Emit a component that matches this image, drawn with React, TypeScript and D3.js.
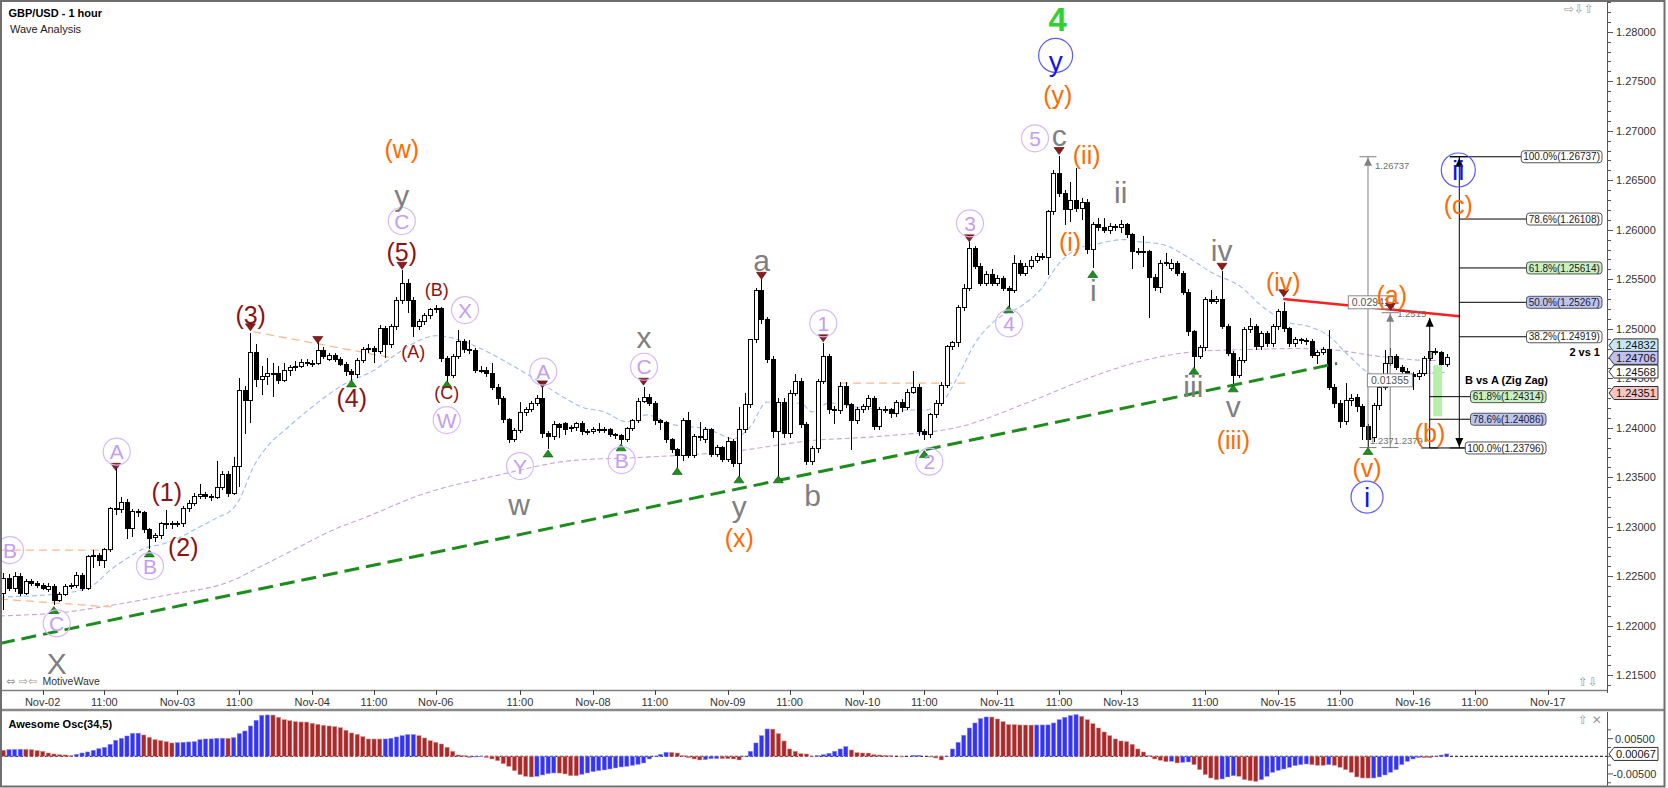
import React from 'react';
import * as d3 from 'd3';

const FONT = "'Liberation Sans', Arial, Helvetica, sans-serif";

// Hourly bars, index 0 = Nov-01 17:00
const opens = [
  1.2233, 1.2248, 1.2238, 1.2250, 1.2233, 1.2245, 1.2243, 1.2241, 1.2237, 1.2240,
  1.2226, 1.2232, 1.2240, 1.2241, 1.2251, 1.2238, 1.2270, 1.2271, 1.2266, 1.2277,
  1.2318, 1.2317, 1.2325, 1.2298, 1.2315, 1.2314, 1.2297, 1.2289, 1.2291, 1.2303,
  1.2303, 1.2302, 1.2303, 1.2318, 1.2324, 1.2331, 1.2333, 1.2331, 1.2330, 1.2340,
  1.2353, 1.2334, 1.2361, 1.2438, 1.2428, 1.2476, 1.2449, 1.2452, 1.2455, 1.2455,
  1.2448, 1.2458, 1.2461, 1.2462, 1.2466, 1.2465, 1.2465, 1.2478, 1.2469, 1.2473,
  1.2469, 1.2464, 1.2457, 1.2454, 1.2468, 1.2479, 1.2480, 1.2477, 1.2500, 1.2484,
  1.2502, 1.2529, 1.2546, 1.2529, 1.2502, 1.2507, 1.2513, 1.2519, 1.2520, 1.2470,
  1.2453, 1.2472, 1.2487, 1.2479, 1.2478, 1.2458, 1.2458, 1.2455, 1.2441, 1.2430,
  1.2408, 1.2388, 1.2397, 1.2415, 1.2418, 1.2424, 1.2430, 1.2394, 1.2391, 1.2403,
  1.2404, 1.2399, 1.2400, 1.2404, 1.2396, 1.2396, 1.2398, 1.2398, 1.2398, 1.2393,
  1.2392, 1.2388, 1.2399, 1.2407, 1.2427, 1.2431, 1.2425, 1.2407, 1.2405, 1.2388,
  1.2378, 1.2372, 1.2407, 1.2372, 1.2391, 1.2388, 1.2398, 1.2373, 1.2380, 1.2368,
  1.2386, 1.2364, 1.2398, 1.2423, 1.2489, 1.2539, 1.2509, 1.2469, 1.2396, 1.2426,
  1.2394, 1.2435, 1.2447, 1.2403, 1.2366, 1.2379, 1.2447, 1.2472, 1.2418, 1.2417,
  1.2442, 1.2423, 1.2407, 1.2418, 1.2421, 1.2430, 1.2401, 1.2418, 1.2418, 1.2414,
  1.2426, 1.2420, 1.2436, 1.2441, 1.2396, 1.2393, 1.2413, 1.2425, 1.2443, 1.2482,
  1.2486, 1.2521, 1.2541, 1.2581, 1.2563, 1.2546, 1.2555, 1.2546, 1.2551, 1.2541,
  1.2539, 1.2566, 1.2556, 1.2563, 1.2569, 1.2573, 1.2572, 1.2618, 1.2657, 1.2637,
  1.2620, 1.2630, 1.2621, 1.2628, 1.2580, 1.2605, 1.2602, 1.2599, 1.2603, 1.2602,
  1.2605, 1.2595, 1.2578, 1.2577, 1.2578, 1.2552, 1.2542, 1.2566, 1.2561, 1.2566,
  1.2556, 1.2537, 1.2497, 1.2472, 1.2481, 1.2530, 1.2528, 1.2530, 1.2502, 1.2475,
  1.2453, 1.2468, 1.2499, 1.2502, 1.2482, 1.2495, 1.2485, 1.2502, 1.2517, 1.2500,
  1.2485, 1.2489, 1.2488, 1.2487, 1.2473, 1.2476, 1.2479, 1.2441, 1.2425, 1.2406,
  1.2428, 1.2431, 1.2421, 1.2401, 1.2390, 1.2422, 1.2441, 1.2465, 1.2472, 1.2461,
  1.2457, 1.2454, 1.2452, 1.2455, 1.2470, 1.2477, 1.2476, 1.2464,
];
const highs = [
  1.2253, 1.2252, 1.2254, 1.2253, 1.2247, 1.2247, 1.2245, 1.2243, 1.2243, 1.2242,
  1.2234, 1.2242, 1.2243, 1.2254, 1.2253, 1.2272, 1.2277, 1.2274, 1.2279, 1.2320,
  1.2359, 1.2330, 1.2328, 1.2318, 1.2318, 1.2316, 1.2299, 1.2294, 1.2305, 1.2317,
  1.2306, 1.2306, 1.2321, 1.2327, 1.2334, 1.2343, 1.2335, 1.2333, 1.2366, 1.2356,
  1.2356, 1.2370, 1.2450, 1.2442, 1.2496, 1.2485, 1.2462, 1.2470, 1.2465, 1.2462,
  1.2465, 1.2463, 1.2467, 1.2469, 1.2469, 1.2468, 1.2491, 1.2482, 1.2476, 1.2476,
  1.2471, 1.2466, 1.2459, 1.2470, 1.2482, 1.2485, 1.2483, 1.2504, 1.2503, 1.2505,
  1.2532, 1.2559, 1.2550, 1.2532, 1.2510, 1.2516, 1.2521, 1.2524, 1.2522, 1.2472,
  1.2475, 1.2499, 1.2490, 1.2489, 1.2481, 1.2462, 1.2461, 1.2465, 1.2444, 1.2432,
  1.2410, 1.2400, 1.2426, 1.2421, 1.2427, 1.2433, 1.2441, 1.2397, 1.2407, 1.2405,
  1.2406, 1.2403, 1.2406, 1.2407, 1.2399, 1.2401, 1.2405, 1.2401, 1.2400, 1.2395,
  1.2394, 1.2401, 1.2409, 1.2430, 1.2441, 1.2434, 1.2427, 1.2409, 1.2407, 1.2390,
  1.2380, 1.2410, 1.2416, 1.2394, 1.2406, 1.2401, 1.2400, 1.2383, 1.2382, 1.2391,
  1.2389, 1.2421, 1.2435, 1.2490, 1.2541, 1.2550, 1.2512, 1.2472, 1.2430, 1.2430,
  1.2438, 1.2454, 1.2450, 1.2406, 1.2382, 1.2449, 1.2486, 1.2475, 1.2422, 1.2446,
  1.2446, 1.2425, 1.2421, 1.2424, 1.2433, 1.2432, 1.2421, 1.2422, 1.2420, 1.2428,
  1.2429, 1.2439, 1.2457, 1.2444, 1.2399, 1.2415, 1.2428, 1.2446, 1.2484, 1.2488,
  1.2524, 1.2545, 1.2588, 1.2584, 1.2566, 1.2558, 1.2560, 1.2554, 1.2553, 1.2543,
  1.2574, 1.2569, 1.2566, 1.2573, 1.2576, 1.2576, 1.2620, 1.2660, 1.2674, 1.2640,
  1.2648, 1.2662, 1.2632, 1.2631, 1.2608, 1.2612, 1.2612, 1.2607, 1.2606, 1.2610,
  1.2607, 1.2597, 1.2582, 1.2594, 1.2580, 1.2555, 1.2569, 1.2577, 1.2570, 1.2568,
  1.2558, 1.2540, 1.2499, 1.2484, 1.2532, 1.2539, 1.2533, 1.2558, 1.2505, 1.2478,
  1.2471, 1.2502, 1.2511, 1.2505, 1.2498, 1.2498, 1.2505, 1.2520, 1.2527, 1.2502,
  1.2492, 1.2491, 1.2491, 1.2490, 1.2479, 1.2482, 1.2499, 1.2444, 1.2428, 1.2445,
  1.2434, 1.2434, 1.2424, 1.2404, 1.2425, 1.2447, 1.2479, 1.2481, 1.2475, 1.2463,
  1.2460, 1.2456, 1.2458, 1.2472, 1.2478, 1.2481, 1.2478, 1.2474,
];
const lows = [
  1.2216, 1.2235, 1.2234, 1.2230, 1.2231, 1.2240, 1.2238, 1.2236, 1.2234, 1.2221,
  1.2224, 1.2230, 1.2237, 1.2238, 1.2235, 1.2236, 1.2258, 1.2260, 1.2258, 1.2275,
  1.2312, 1.2314, 1.2288, 1.2290, 1.2310, 1.2294, 1.2278, 1.2285, 1.2288, 1.2298,
  1.2298, 1.2300, 1.2300, 1.2315, 1.2321, 1.2328, 1.2328, 1.2326, 1.2328, 1.2337,
  1.2330, 1.2332, 1.2340, 1.2394, 1.2405, 1.2441, 1.2433, 1.2443, 1.2431, 1.2444,
  1.2446, 1.2452, 1.2457, 1.2460, 1.2462, 1.2461, 1.2463, 1.2469, 1.2467, 1.2466,
  1.2462, 1.2452, 1.2445, 1.2450, 1.2465, 1.2476, 1.2465, 1.2474, 1.2470, 1.2481,
  1.2499, 1.2525, 1.2516, 1.2492, 1.2499, 1.2504, 1.2510, 1.2516, 1.2466, 1.2445,
  1.2450, 1.2469, 1.2476, 1.2475, 1.2455, 1.2455, 1.2451, 1.2438, 1.2423, 1.2405,
  1.2385, 1.2386, 1.2395, 1.2412, 1.2416, 1.2422, 1.2390, 1.2379, 1.2388, 1.2390,
  1.2393, 1.2396, 1.2397, 1.2393, 1.2393, 1.2394, 1.2395, 1.2395, 1.2391, 1.2389,
  1.2384, 1.2386, 1.2397, 1.2405, 1.2425, 1.2422, 1.2403, 1.2398, 1.2385, 1.2375,
  1.2359, 1.2366, 1.2369, 1.2369, 1.2387, 1.2385, 1.2370, 1.2370, 1.2365, 1.2365,
  1.2360, 1.2350, 1.2395, 1.2420, 1.2486, 1.2505, 1.2465, 1.2390, 1.2350, 1.2390,
  1.2390, 1.2432, 1.2400, 1.2362, 1.2362, 1.2375, 1.2444, 1.2414, 1.2404, 1.2414,
  1.2420, 1.2378, 1.2404, 1.2415, 1.2418, 1.2398, 1.2398, 1.2415, 1.2410, 1.2411,
  1.2416, 1.2418, 1.2434, 1.2392, 1.2388, 1.2390, 1.2410, 1.2422, 1.2440, 1.2479,
  1.2482, 1.2518, 1.2538, 1.2560, 1.2543, 1.2543, 1.2543, 1.2543, 1.2538, 1.2522,
  1.2536, 1.2553, 1.2553, 1.2560, 1.2566, 1.2569, 1.2554, 1.2615, 1.2633, 1.2605,
  1.2608, 1.2618, 1.2610, 1.2575, 1.2561, 1.2599, 1.2597, 1.2596, 1.2599, 1.2597,
  1.2592, 1.2560, 1.2574, 1.2562, 1.2511, 1.2538, 1.2536, 1.2563, 1.2558, 1.2553,
  1.2534, 1.2493, 1.2458, 1.2469, 1.2478, 1.2525, 1.2525, 1.2500, 1.2472, 1.2439,
  1.2450, 1.2465, 1.2496, 1.2479, 1.2479, 1.2482, 1.2482, 1.2499, 1.2497, 1.2482,
  1.2482, 1.2485, 1.2484, 1.2470, 1.2464, 1.2473, 1.2438, 1.2420, 1.2400, 1.2403,
  1.2422, 1.2416, 1.2388, 1.2380, 1.2386, 1.2418, 1.2438, 1.2462, 1.2458, 1.2452,
  1.2451, 1.2438, 1.2448, 1.2452, 1.2467, 1.2473, 1.2460, 1.2461,
];
const closes = [
  1.2248, 1.2238, 1.2250, 1.2233, 1.2245, 1.2243, 1.2241, 1.2238, 1.2240, 1.2226,
  1.2232, 1.2240, 1.2241, 1.2251, 1.2238, 1.2270, 1.2271, 1.2266, 1.2277, 1.2318,
  1.2317, 1.2325, 1.2298, 1.2315, 1.2314, 1.2297, 1.2288, 1.2291, 1.2303, 1.2303,
  1.2302, 1.2303, 1.2318, 1.2324, 1.2331, 1.2333, 1.2331, 1.2330, 1.2340, 1.2353,
  1.2334, 1.2361, 1.2438, 1.2428, 1.2476, 1.2449, 1.2452, 1.2455, 1.2455, 1.2448,
  1.2458, 1.2461, 1.2462, 1.2466, 1.2465, 1.2465, 1.2478, 1.2472, 1.2473, 1.2469,
  1.2464, 1.2457, 1.2454, 1.2468, 1.2479, 1.2480, 1.2477, 1.2500, 1.2484, 1.2502,
  1.2529, 1.2546, 1.2529, 1.2502, 1.2507, 1.2513, 1.2519, 1.2520, 1.2470, 1.2453,
  1.2472, 1.2487, 1.2479, 1.2478, 1.2458, 1.2458, 1.2455, 1.2441, 1.2430, 1.2408,
  1.2388, 1.2397, 1.2415, 1.2418, 1.2424, 1.2430, 1.2394, 1.2391, 1.2403, 1.2400,
  1.2398, 1.2400, 1.2404, 1.2396, 1.2396, 1.2398, 1.2398, 1.2398, 1.2393, 1.2392,
  1.2388, 1.2399, 1.2407, 1.2427, 1.2431, 1.2425, 1.2407, 1.2405, 1.2388, 1.2378,
  1.2372, 1.2407, 1.2372, 1.2391, 1.2390, 1.2398, 1.2373, 1.2380, 1.2368, 1.2386,
  1.2364, 1.2398, 1.2423, 1.2489, 1.2539, 1.2509, 1.2469, 1.2396, 1.2426, 1.2394,
  1.2435, 1.2447, 1.2403, 1.2366, 1.2379, 1.2447, 1.2472, 1.2418, 1.2417, 1.2442,
  1.2423, 1.2407, 1.2418, 1.2421, 1.2430, 1.2401, 1.2418, 1.2418, 1.2414, 1.2426,
  1.2420, 1.2436, 1.2441, 1.2396, 1.2393, 1.2413, 1.2425, 1.2443, 1.2482, 1.2486,
  1.2521, 1.2541, 1.2581, 1.2563, 1.2546, 1.2555, 1.2546, 1.2551, 1.2541, 1.2539,
  1.2566, 1.2556, 1.2563, 1.2569, 1.2573, 1.2572, 1.2618, 1.2657, 1.2637, 1.2620,
  1.2630, 1.2621, 1.2628, 1.2580, 1.2605, 1.2602, 1.2599, 1.2603, 1.2602, 1.2605,
  1.2595, 1.2578, 1.2577, 1.2578, 1.2552, 1.2542, 1.2566, 1.2567, 1.2566, 1.2556,
  1.2537, 1.2497, 1.2472, 1.2481, 1.2530, 1.2528, 1.2530, 1.2502, 1.2475, 1.2453,
  1.2468, 1.2499, 1.2502, 1.2482, 1.2495, 1.2485, 1.2502, 1.2517, 1.2500, 1.2485,
  1.2489, 1.2488, 1.2487, 1.2473, 1.2476, 1.2479, 1.2441, 1.2425, 1.2406, 1.2428,
  1.2430, 1.2421, 1.2401, 1.2388, 1.2422, 1.2441, 1.2465, 1.2472, 1.2461, 1.2457,
  1.2455, 1.2452, 1.2455, 1.2470, 1.2477, 1.2477, 1.2464, 1.2471,
];
const shadedBars = [247, 254];

// Awesome Oscillator (34,5), one value per bar
const aoValues = [
  0.00170, 0.00190, 0.00195, 0.00200, 0.00198, 0.00189, 0.00160, 0.00142, 0.00094, 0.00066,
  0.00047, 0.00038, 0.00019, 0.00057, 0.00094, 0.00123, 0.00170, 0.00217, 0.00255, 0.00340,
  0.00453, 0.00510, 0.00576, 0.00651, 0.00655, 0.00604, 0.00538, 0.00472, 0.00444, 0.00415,
  0.00378, 0.00387, 0.00396, 0.00406, 0.00415, 0.00472, 0.00491, 0.00493, 0.00510, 0.00512,
  0.00510, 0.00529, 0.00642, 0.00717, 0.00859, 0.01020, 0.01161, 0.01171, 0.01169, 0.01104,
  0.01038, 0.01010, 0.00982, 0.00972, 0.00970, 0.00935, 0.00906, 0.00878, 0.00859, 0.00840,
  0.00812, 0.00736, 0.00661, 0.00623, 0.00557, 0.00491, 0.00490, 0.00489, 0.00491, 0.00510,
  0.00548, 0.00585, 0.00614, 0.00616, 0.00585, 0.00519, 0.00444, 0.00396, 0.00349, 0.00255,
  0.00142, 0.00038, 0.00019, -0.00030, -0.00020, -0.00015, -0.00038, -0.00076, -0.00123, -0.00208,
  -0.00283, -0.00406, -0.00519, -0.00566, -0.00585, -0.00566, -0.00529, -0.00491, -0.00472, -0.00475,
  -0.00500, -0.00548, -0.00550, -0.00510, -0.00472, -0.00434, -0.00406, -0.00387, -0.00359, -0.00330,
  -0.00302, -0.00283, -0.00255, -0.00227, -0.00189, -0.00076, 0.00005, 0.00057, 0.00113, 0.00110,
  0.00094, 0.00019, -0.00038, -0.00076, -0.00104, -0.00094, -0.00066, -0.00064, -0.00066, -0.00068,
  -0.00076, -0.00104, 0.00005, 0.00142, 0.00378, 0.00585, 0.00774, 0.00770, 0.00642, 0.00434,
  0.00208, 0.00142, 0.00076, 0.00066, 0.00005, 0.00019, 0.00047, 0.00085, 0.00142, 0.00208,
  0.00274, 0.00179, 0.00104, 0.00094, 0.00092, 0.00047, 0.00038, 0.00028, 0.00019, 0.00000,
  -0.00019, 0.00000, 0.00028, 0.00030, 0.00000, -0.00019, -0.00047, -0.00104, 0.00005, 0.00208,
  0.00396, 0.00595, 0.00802, 0.00944, 0.01067, 0.01114, 0.01112, 0.01057, 0.00982, 0.00897,
  0.00895, 0.00888, 0.00886, 0.00884, 0.00886, 0.00888, 0.00890, 0.00944, 0.01038, 0.01104,
  0.01151, 0.01180, 0.01133, 0.01038, 0.00925, 0.00802, 0.00689, 0.00585, 0.00491, 0.00434,
  0.00415, 0.00340, 0.00208, 0.00123, 0.00019, -0.00076, -0.00113, -0.00151, -0.00140, -0.00189,
  -0.00170, -0.00160, -0.00236, -0.00378, -0.00519, -0.00614, -0.00661, -0.00642, -0.00585, -0.00548,
  -0.00566, -0.00661, -0.00689, -0.00708, -0.00661, -0.00566, -0.00453, -0.00396, -0.00359, -0.00312,
  -0.00264, -0.00236, -0.00217, -0.00236, -0.00255, -0.00257, -0.00236, -0.00255, -0.00312, -0.00378,
  -0.00453, -0.00585, -0.00614, -0.00616, -0.00614, -0.00585, -0.00529, -0.00453, -0.00378, -0.00236,
  -0.00142, -0.00076, -0.00038, -0.00040, -0.00042, 0.00003, 0.00035, 0.00067,
];

// moving averages: [bar, price]
const blueMaPoints = [
  [-0.6, 1.2229], [11, 1.2233], [16, 1.2241], [19, 1.2256], [22, 1.2268], [25.5, 1.2279], [28, 1.2282],
  [31, 1.2288], [34, 1.2297], [38, 1.2309], [41, 1.2319], [42, 1.2327], [44.5, 1.2360], [47, 1.2381],
  [50.4, 1.2399], [55, 1.2421], [61, 1.2445], [66, 1.2458], [69.4, 1.2472], [73, 1.2485], [77, 1.2493],
  [81, 1.2489], [85, 1.2480], [90, 1.2465], [95, 1.2448], [100, 1.2430], [103, 1.2421], [107, 1.2416],
  [111, 1.2406], [114.6, 1.2413], [118.7, 1.2404], [125.8, 1.2398], [130, 1.2389], [133, 1.2401],
  [136, 1.2426], [139, 1.2423], [142, 1.2425], [144, 1.2416], [147, 1.2425], [152, 1.2421], [158, 1.2418],
  [164, 1.2418], [167, 1.2425], [170, 1.2452], [173, 1.2485], [177.5, 1.2512], [181, 1.2522],
  [184.6, 1.2539], [188, 1.2566], [191, 1.2580], [195, 1.2586], [199.4, 1.2590], [202, 1.2588],
  [206.5, 1.2585], [210.7, 1.2573], [215.4, 1.2556], [220.2, 1.2543], [224.3, 1.2522], [228.5, 1.2507],
  [232.6, 1.2502], [236.2, 1.2492], [239.2, 1.2475], [243.3, 1.2455], [247, 1.2450], [251, 1.2453],
  [254, 1.2455], [257, 1.2456],
];
const purpleMaPoints = [
  [-0.6, 1.2210], [11.3, 1.2214], [19.6, 1.2221], [29.1, 1.2231], [40.9, 1.2246], [44.5, 1.2256],
  [52.8, 1.2280], [58.8, 1.2297], [64.7, 1.2310], [74.2, 1.2332], [88, 1.2352], [101.5, 1.2367],
  [113.4, 1.2370], [131.2, 1.2377], [143.8, 1.2387], [155.2, 1.2391], [170.3, 1.2401], [182.2, 1.2425],
  [194.1, 1.2452], [202.4, 1.2467], [212.5, 1.2477], [221.4, 1.2479], [230.3, 1.2480], [236.2, 1.2479],
  [245.1, 1.2472], [254, 1.2468], [257, 1.2468],
];

const xTicks = [
  [7, 'Nov-02'], [18, '11:00'], [31, 'Nov-03'], [42, '11:00'], [55, 'Nov-04'], [66, '11:00'],
  [77, 'Nov-06'], [92, '11:00'], [105, 'Nov-08'], [116, '11:00'], [129, 'Nov-09'], [140, '11:00'],
  [153, 'Nov-10'], [164, '11:00'], [177, 'Nov-11'], [188, '11:00'], [199, 'Nov-13'], [214, '11:00'],
  [227, 'Nov-15'], [238, '11:00'], [251, 'Nov-16'], [262, '11:00'], [275, 'Nov-17'],
];
const priceTicks = [1.215, 1.22, 1.225, 1.23, 1.235, 1.24, 1.245, 1.25, 1.255, 1.26, 1.265, 1.27, 1.275, 1.28];
const aoTicks = [0.005, -0.005];
const priceTags = [
  [1.24832, '#c6e6f6'], [1.24706, '#c0c0f2'], [1.24568, '#ffffff'], [1.24351, '#f6c4c4'],
];
const aoLastValue = 0.00067;

// wave labels: [bar, price, text]
const darkRedLabels = [
  [29.1, 1.2335, '(1)'], [32.05, 1.2280, '(2)'], [44.05, 1.2514, '(3)'], [62.04, 1.2430, '(4)'],
  [70.94, 1.2578, '(5)'], [73.0, 1.2477, '(A)'], [77.17, 1.2539, '(B)'], [78.95, 1.2435, '(C)'],
];
const purpleCircleLabels = [
  [1.19, 1.22765, 'B'], [9.51, 1.22024, 'C'], [20.19, 1.23758, 'A'], [26.12, 1.22603, 'B'],
  [70.96, 1.26088, 'C'], [82.21, 1.25189, 'X'], [78.95, 1.24078, 'W'], [96.15, 1.24566, 'A'],
  [92.0, 1.23613, 'Y'], [110.11, 1.23674, 'B'], [114.09, 1.24616, 'C'], [146.01, 1.25055, '1'],
  [164.89, 1.23657, '2'], [172.13, 1.26065, '3'], [179.08, 1.25055, '4'], [183.71, 1.26923, '5'],
];
const grayLabels = [
  [9.51, 1.21623, 'X'], [70.96, 1.26411, 'y'], [91.83, 1.23249, 'w'], [114.09, 1.24936, 'x'],
  [135.04, 1.25714, 'a'], [131.05, 1.2327, 'y'], [144.12, 1.2332, 'b'], [188.03, 1.26977, 'c'],
  [198.97, 1.26371, 'ii'], [194.09, 1.25391, 'i'], [216.95, 1.25795, 'iv'], [211.9, 1.24421, 'iii'],
  [219.02, 1.24239, 'v'],
];
const orangeLabels = [
  [70.96, 1.26815, '(w)'], [131.05, 1.22886, '(x)'], [187.75, 1.27361, '(y)'], [189.94, 1.25876, '(i)'],
  [192.91, 1.26755, '(ii)'], [219.02, 1.23876, '(iii)'], [227.92, 1.25472, '(iv)'], [242.83, 1.23593, '(v)'],
  [247.22, 1.2534, '(a)'], [254.04, 1.23946, '(b)'], [259.08, 1.2625, '(c)'],
];
const blueCircleLabels = [[187.38, 1.27760, 'y', 17], [242.83, 1.2330, 'i', 16], [259.08, 1.26603, 'ii', 17]];
const greenLabels = [[187.75, 1.28122, '4']];
const highMarkers = [
  [44, 1.25014], [20, 1.23606], [71, 1.25636], [56, 1.24886], [96, 1.24438], [114, 1.24465],
  [135, 1.25535], [146, 1.24903], [172, 1.25913], [188, 1.26795], [217, 1.25626], [228, 1.25358],
  [247, 1.25222],
];
const lowMarkers = [
  [9, 1.22159], [26, 1.22731], [62, 1.24448], [79, 1.24441], [97, 1.23741], [110, 1.23802],
  [120, 1.23563], [131, 1.23479], [138, 1.23479], [164, 1.23734], [179, 1.25196], [194, 1.25553],
  [212, 1.24576], [219, 1.24398], [243, 1.23765],
];

// drawn lines: [[bar, price], [bar, price]]
const greenTrend = [[-0.6, 1.21822], [237.5, 1.2465]];
const redResistance = [[227.9, 1.2530], [259.3, 1.25126]];
const orangeLevels = [
  [[-0.6, 1.22765], [19, 1.22765]],
  [[-0.6, 1.2227], [19.3, 1.2219]],
  [[44.5, 1.2497], [68.9, 1.2471]],
  [[149, 1.2445], [171.6, 1.2445]],
];

// fib / measuring tools
const fib2vs1 = [[100.0, 1.26737, '#ffffff'], [78.6, 1.26108, '#ffffff'], [61.8, 1.25614, '#c8f0c0'], [50.0, 1.25267, '#bcc4f4'], [38.2, 1.24919, '#ffffff']];
const fibBvsA = [[61.8, 1.24314, '#c8f0c0'], [78.6, 1.24086, '#bcc4f4'], [100.0, 1.23796, '#ffffff']];
const tool2vs1 = { bar: 259.26, top: 1.26737, bottom: 1.23796, title: '2 vs 1', titlePrice: 1.24768 };
const toolBvsA = { bar: 253.99, top: 1.2511, bottom: 1.23796, title: 'B vs A (Zig Zag)', titlePrice: 1.24482 };
const measure1 = { bar: 243, top: 1.26737, bottom: 1.2380, label: '1.26737' };
const measure2 = { bar: 246.95, top: 1.25162, bottom: 1.2380, label: '1.2515' };
const measureBoxes = [[243.5, 1.25267, '0.02941'], [246.9, 1.24479, '0.01355']];
const greenZone = { bar0: 254.6, bar1: 256.2, top: 1.24631, bottom: 1.24116 };

const PLOT_R = 1607;
const PLOT_B = 690;
const AO_T = 712;
const AO_B = 786;

function shiftFor(t) {
  if (/^[acemnorsuvwxz]+$/.test(t)) return '0.09em';
  if (/^[gpqy]+$/.test(t)) return '0.2em';
  return '0em';
}

export default function App() {
  const xs = d3.scaleLinear().domain([0, 275]).range([3.3, 1547.7]);
  const ys = d3.scaleLinear().domain([1.215, 1.28]).range([675.3, 31.7]);
  const aos = d3.scaleLinear().domain([-0.005, 0.005]).range([773.95, 738.65]);
  const maLine = d3.line().x((d) => xs(d[0])).y((d) => ys(d[1])).curve(d3.curveMonotoneX);
  const seg = d3.line().x((d) => xs(d[0])).y((d) => ys(d[1]));

  const bars = d3.range(closes.length).map((i) => ({ i, o: opens[i], h: highs[i], l: lows[i], c: closes[i] }));
  const minorTicks = d3.range(1214, 1284).map((v) => v / 1000);
  const aoMinor = [0.0075, 0.0025, 0, -0.0025, -0.0075];

  const label = (key, x, y, t, size, fill, extra = {}) => (
    <text key={key} x={x} y={y} dy={shiftFor(t)} fontSize={size} fill={fill} textAnchor="middle"
      dominantBaseline="central" fontFamily={FONT} {...extra}>{t}</text>
  );

  const boxLabel = (key, rightX, y, t, fill) => {
    const w = t.length * 5.25 + 2;
    return (
      <g key={key}>
        <rect x={rightX - w} y={y - 6} width={w} height={12} rx={3} fill={fill} stroke="#555" strokeWidth={1} />
        <text x={rightX - w / 2} y={y + 3.6} fontSize={10} textAnchor="middle" fill="#222" fontFamily={FONT}>{t}</text>
      </g>
    );
  };

  const tag = (key, y, t, fill) => (
    <g key={key}>
      <path d={`M1609,${y} L1614,${y - 6.5} L1658,${y - 6.5} L1658,${y + 6.5} L1614,${y + 6.5} Z`} fill={fill} stroke="#333" strokeWidth={1} />
      <text x={1616} y={y + 4} fontSize={11} fill="#111" fontFamily={FONT}>{t}</text>
    </g>
  );

  const m1x = xs(measure1.bar);
  const m2x = xs(measure2.bar);
  const t1x = xs(tool2vs1.bar);
  const t2x = xs(toolBvsA.bar);

  return (
    <svg width={1668} height={788} viewBox="0 0 1668 788"
      style={{ position: 'absolute', left: 0, top: 0, display: 'block', background: '#fff' }}>
      <defs>
        <clipPath id="plotClip"><rect x={1} y={1} width={PLOT_R - 1} height={PLOT_B - 1} /></clipPath>
        <clipPath id="aoClip"><rect x={1} y={AO_T} width={PLOT_R - 1} height={AO_B - AO_T} /></clipPath>
      </defs>
      <rect x={0} y={0} width={1668} height={788} fill="#fff" />

      {/* ---------- main plot ---------- */}
      <g clipPath="url(#plotClip)">
        <path d={maLine(purpleMaPoints)} fill="none" stroke="#c9a2dc" strokeWidth={1.1} strokeDasharray="5,3" />
        <path d={maLine(blueMaPoints)} fill="none" stroke="#9dbcf4" strokeWidth={1.1} strokeDasharray="5,3" />

        {orangeLevels.map((s, i) => (
          <path key={'ol' + i} d={seg(s)} fill="none" stroke="#ffb88c" strokeWidth={1.3} strokeDasharray="8,5" />
        ))}

        <g shapeRendering="crispEdges">
          {bars.map((b) => {
            const cx = Math.round(xs(b.i));
            const top = ys(Math.max(b.o, b.c));
            const bot = ys(Math.min(b.o, b.c));
            const up = b.c >= b.o;
            const shaded = shadedBars.includes(b.i);
            return (
              <g key={'c' + b.i}>
                <line x1={cx + 0.5} x2={cx + 0.5} y1={ys(b.h)} y2={ys(b.l)} stroke="#000" strokeWidth={1} />
                <rect x={cx - 1.5} y={top} width={4} height={Math.max(1, bot - top)}
                  fill={shaded ? '#a8a8a8' : up ? '#fff' : '#000'} stroke="#000" strokeWidth={1} />
              </g>
            );
          })}
        </g>

        <path d={seg(greenTrend)} fill="none" stroke="#1c8c1c" strokeWidth={3} strokeDasharray="15,7" />
        <path d={seg(redResistance)} fill="none" stroke="#ff1e1e" strokeWidth={2.6} />

        <rect x={xs(greenZone.bar0)} y={ys(greenZone.top)} width={xs(greenZone.bar1) - xs(greenZone.bar0)}
          height={ys(greenZone.bottom) - ys(greenZone.top)} fill="#b6eeaa" />

        {/* measure tools (gray) */}
        <g stroke="#808080" strokeWidth={1} fill="none">
          <line x1={m1x} x2={m1x} y1={ys(measure1.top)} y2={ys(measure1.bottom)} />
          <line x1={m1x - 8.5} x2={m1x + 8.5} y1={ys(measure1.top)} y2={ys(measure1.top)} />
          <line x1={m1x - 8.5} x2={m1x + 8.5} y1={ys(measure1.bottom)} y2={ys(measure1.bottom)} />
          <line x1={m2x} x2={m2x} y1={ys(measure2.top)} y2={ys(measure2.bottom)} />
          <line x1={m2x - 8.5} x2={m2x + 8.5} y1={ys(measure2.top)} y2={ys(measure2.top)} />
          <line x1={m2x - 8.5} x2={m2x + 8.5} y1={ys(measure2.bottom)} y2={ys(measure2.bottom)} />
        </g>
        <path d={`M${m1x},${ys(measure1.top) + 1} l-4,8 l8,0 Z`} fill="#808080" />
        <path d={`M${m2x},${ys(measure2.top) + 1} l-4,8 l8,0 Z`} fill="#808080" />
        <text x={m1x + 7} y={ys(measure1.top) + 12} fontSize={9.5} fill="#707070" fontFamily={FONT}>{measure1.label}</text>
        <text x={m2x + 7} y={ys(measure2.top) + 4.5} fontSize={9.5} fill="#707070" fontFamily={FONT}>{measure2.label}</text>
        <text x={m1x + 2} y={ys(measure1.bottom) - 4} fontSize={9.5} fill="#707070" fontFamily={FONT}>1.2371.2379</text>
        {measureBoxes.map((m, i) => (
          <g key={'mb' + i}>
            <rect x={xs(m[0]) - 22.5} y={ys(m[1]) - 6.5} width={45} height={13} fill="#fff" stroke="#8a8a8a" strokeWidth={1} />
            <text x={xs(m[0])} y={ys(m[1]) + 3.8} fontSize={10.5} textAnchor="middle" fill="#555" fontFamily={FONT}>{m[2]}</text>
          </g>
        ))}

        {/* fib tools (black) */}
        <g stroke="#000" strokeWidth={1}>
          <line x1={t1x} x2={t1x} y1={ys(tool2vs1.top)} y2={ys(tool2vs1.bottom)} />
          <line x1={t1x - 9.5} x2={t1x + 9} y1={ys(tool2vs1.top)} y2={ys(tool2vs1.top)} />
          <line x1={t1x - 9.5} x2={t1x + 9} y1={ys(tool2vs1.bottom)} y2={ys(tool2vs1.bottom)} />
          <line x1={t2x} x2={t2x} y1={ys(toolBvsA.top)} y2={ys(toolBvsA.bottom)} />
          <line x1={t2x - 8.5} x2={t2x + 8.5} y1={ys(toolBvsA.bottom)} y2={ys(toolBvsA.bottom)} />
          {fib2vs1.map((f, i) => {
            const txt = `${f[0].toFixed(1)}%(${f[1].toFixed(5)})`;
            const w = txt.length * 5.25 + 2;
            return <line key={'f1' + i} x1={i === 0 ? t1x - 9.5 : t1x} x2={1602 - w} y1={ys(f[1])} y2={ys(f[1])} />;
          })}
          {fibBvsA.map((f, i) => {
            const txt = `${f[0].toFixed(1)}%(${f[1].toFixed(5)})`;
            const w = txt.length * 5.25 + 2;
            return <line key={'f2' + i} x1={t2x} x2={1546 - w} y1={ys(f[1])} y2={ys(f[1])} />;
          })}
        </g>
        <path d={`M${t1x},${ys(tool2vs1.top) + 1} l-4,9 l8,0 Z`} fill="#000" />
        <path d={`M${t1x},${ys(tool2vs1.bottom) - 1} l-4,-9 l8,0 Z`} fill="#000" />
        <path d={`M${t2x},${ys(toolBvsA.top)} l-4,9 l8,0 Z`} fill="#000" />
        {fib2vs1.map((f, i) => boxLabel('fb1' + i, 1602, ys(f[1]), `${f[0].toFixed(1)}%(${f[1].toFixed(5)})`, f[2]))}
        {fibBvsA.map((f, i) => boxLabel('fb2' + i, 1546, ys(f[1]), `${f[0].toFixed(1)}%(${f[1].toFixed(5)})`, f[2]))}
        <text x={1600} y={ys(tool2vs1.titlePrice) + 4} fontSize={11} fontWeight="bold" textAnchor="end" fill="#000" fontFamily={FONT}>{tool2vs1.title}</text>
        <text x={1465} y={ys(toolBvsA.titlePrice) + 4} fontSize={11} fontWeight="bold" fill="#000" fontFamily={FONT}>{toolBvsA.title}</text>

        {/* swing markers */}
        {highMarkers.map((m, i) => {
          const x = xs(m[0]); const y = ys(m[1]);
          return <path key={'hm' + i} d={`M${x - 5},${y - 3.5} L${x + 5},${y - 3.5} L${x},${y + 3.5} Z`} fill="#8e1a1a" stroke="#4a0606" strokeWidth={0.6} />;
        })}
        {lowMarkers.map((m, i) => {
          const x = xs(m[0]); const y = ys(m[1]);
          return <path key={'lm' + i} d={`M${x - 5},${y + 3.5} L${x + 5},${y + 3.5} L${x},${y - 3.5} Z`} fill="#1f8f1f" stroke="#0b4f0b" strokeWidth={0.6} />;
        })}

        {/* wave labels */}
        {purpleCircleLabels.map((l, i) => (
          <g key={'pc' + i}>
            <circle cx={xs(l[0])} cy={ys(l[1])} r={13.5} fill="none" stroke="#d7b9fb" strokeWidth={1.2} />
            {label('pt' + i, xs(l[0]), ys(l[1]), l[2], 21, '#c49cf6')}
          </g>
        ))}
        {darkRedLabels.map((l, i) => label('dr' + i, xs(l[0]), ys(l[1]), l[2], l[2].match(/[ABC]/) ? 18 : 25, '#8e1212'))}
        {grayLabels.map((l, i) => label('gl' + i, xs(l[0]), ys(l[1]), l[2], 30, '#808080'))}
        {orangeLabels.map((l, i) => label('or' + i, xs(l[0]), ys(l[1]), l[2], 25, '#ff6a00'))}
        {blueCircleLabels.map((l, i) => (
          <g key={'bc' + i}>
            <circle cx={xs(l[0])} cy={ys(l[1])} r={l[3]} fill="none" stroke="#5a5aff" strokeWidth={1.2} />
            {label('bt' + i, xs(l[0]), ys(l[1]), l[2], 28, '#1414e6')}
          </g>
        ))}
        {greenLabels.map((l, i) => label('gr' + i, xs(l[0]), ys(l[1]), l[2], 33, '#2fd12f', { fontWeight: 'bold' }))}
      </g>

      {/* title */}
      <text x={8.5} y={17} fontSize={11} fontWeight="bold" fill="#000" fontFamily={FONT}>GBP/USD - 1 hour</text>
      <text x={10} y={32.5} fontSize={11} fill="#222" fontFamily={FONT}>Wave Analysis</text>
      <text x={6} y={684.5} fontSize={11} fill="#9a9a9a" fontFamily="'DejaVu Sans', sans-serif">⇔ ⇨⇦</text>
      <text x={42.5} y={684.5} fontSize={10.5} fill="#333" fontFamily={FONT}>MotiveWave</text>
      <text x={1564} y={13} fontSize={12} fill="#9a9a9a" fontFamily="'DejaVu Sans', sans-serif">⇨⇩⇧</text>
      <text x={1578} y={686} fontSize={12} fill="#9a9a9a" fontFamily="'DejaVu Sans', sans-serif">⇧⇩</text>

      {/* x axis */}
      <line x1={0} x2={PLOT_R} y1={690.5} y2={690.5} stroke="#808080" strokeWidth={1.5} />
      {xTicks.map((t, i) => (
        <g key={'xt' + i}>
          <line x1={Math.round(xs(t[0])) + 0.5} x2={Math.round(xs(t[0])) + 0.5} y1={690} y2={695} stroke="#444" />
          <text x={xs(t[0])} y={705.5} fontSize={11} textAnchor="middle" fill="#333" fontFamily={FONT}>{t[1]}</text>
        </g>
      ))}

      {/* price axis */}
      <line x1={PLOT_R + 0.5} x2={PLOT_R + 0.5} y1={0} y2={693} stroke="#555" strokeWidth={1} />
      {minorTicks.map((p, i) => (
        <line key={'mt' + i} x1={PLOT_R} x2={PLOT_R + 4} y1={Math.round(ys(p)) + 0.5} y2={Math.round(ys(p)) + 0.5} stroke="#555" />
      ))}
      {priceTicks.map((p, i) => (
        <g key={'pt' + i}>
          <line x1={PLOT_R} x2={PLOT_R + 6} y1={Math.round(ys(p)) + 0.5} y2={Math.round(ys(p)) + 0.5} stroke="#555" />
          <text x={1616} y={ys(p) + 4} fontSize={11} fill="#333" fontFamily={FONT}>{p.toFixed(5)}</text>
        </g>
      ))}
      {priceTags.map((t, i) => tag('tg' + i, ys(t[0]), t[0].toFixed(5), t[1]))}

      {/* ---------- AO panel ---------- */}
      <line x1={0} x2={1665} y1={710} y2={710} stroke="#8a8a8a" strokeWidth={2.5} />
      <g clipPath="url(#aoClip)">
        <line x1={0} x2={PLOT_R} y1={aos(0)} y2={aos(0)} stroke="#000" strokeWidth={1} strokeDasharray="3,2" />
        {aoValues.map((v, i) => {
          if (v === 0) return null;
          const up = i > 0 && v > aoValues[i - 1];
          const x = xs(i);
          const y0 = aos(0);
          const y1 = aos(v);
          return (
            <rect key={'ao' + i} x={x - 2} y={Math.min(y0, y1)} width={4.2} height={Math.abs(y1 - y0)}
              fill={up ? '#3434f2' : '#a82a2a'} stroke={up ? '#8a8aff' : '#e09090'} strokeWidth={0.5} />
          );
        })}
      </g>
      <text x={8.4} y={728} fontSize={11} fontWeight="bold" fill="#000" fontFamily={FONT}>Awesome Osc(34,5)</text>
      <text x={1578} y={724} fontSize={12} fill="#9a9a9a" fontFamily="'DejaVu Sans', sans-serif">⇧ ✕</text>
      <line x1={PLOT_R + 0.5} x2={PLOT_R + 0.5} y1={AO_T} y2={AO_B} stroke="#555" />
      {aoMinor.map((v, i) => (
        <line key={'am' + i} x1={PLOT_R} x2={PLOT_R + 4} y1={aos(v)} y2={aos(v)} stroke="#555" />
      ))}
      {aoTicks.map((v, i) => (
        <g key={'at' + i}>
          <line x1={PLOT_R} x2={PLOT_R + 6} y1={aos(v)} y2={aos(v)} stroke="#555" />
          <text x={v < 0 ? 1613 : 1615} y={aos(v) + 4} fontSize={11} fill="#333" fontFamily={FONT}>{v.toFixed(5)}</text>
        </g>
      ))}
      {tag('aotag', aos(aoLastValue), aoLastValue.toFixed(5), '#ffffff')}

      <rect x={1} y={1} width={1663.5} height={785.5} fill="none" stroke="#6e6e6e" strokeWidth={2} />
    </svg>
  );
}
